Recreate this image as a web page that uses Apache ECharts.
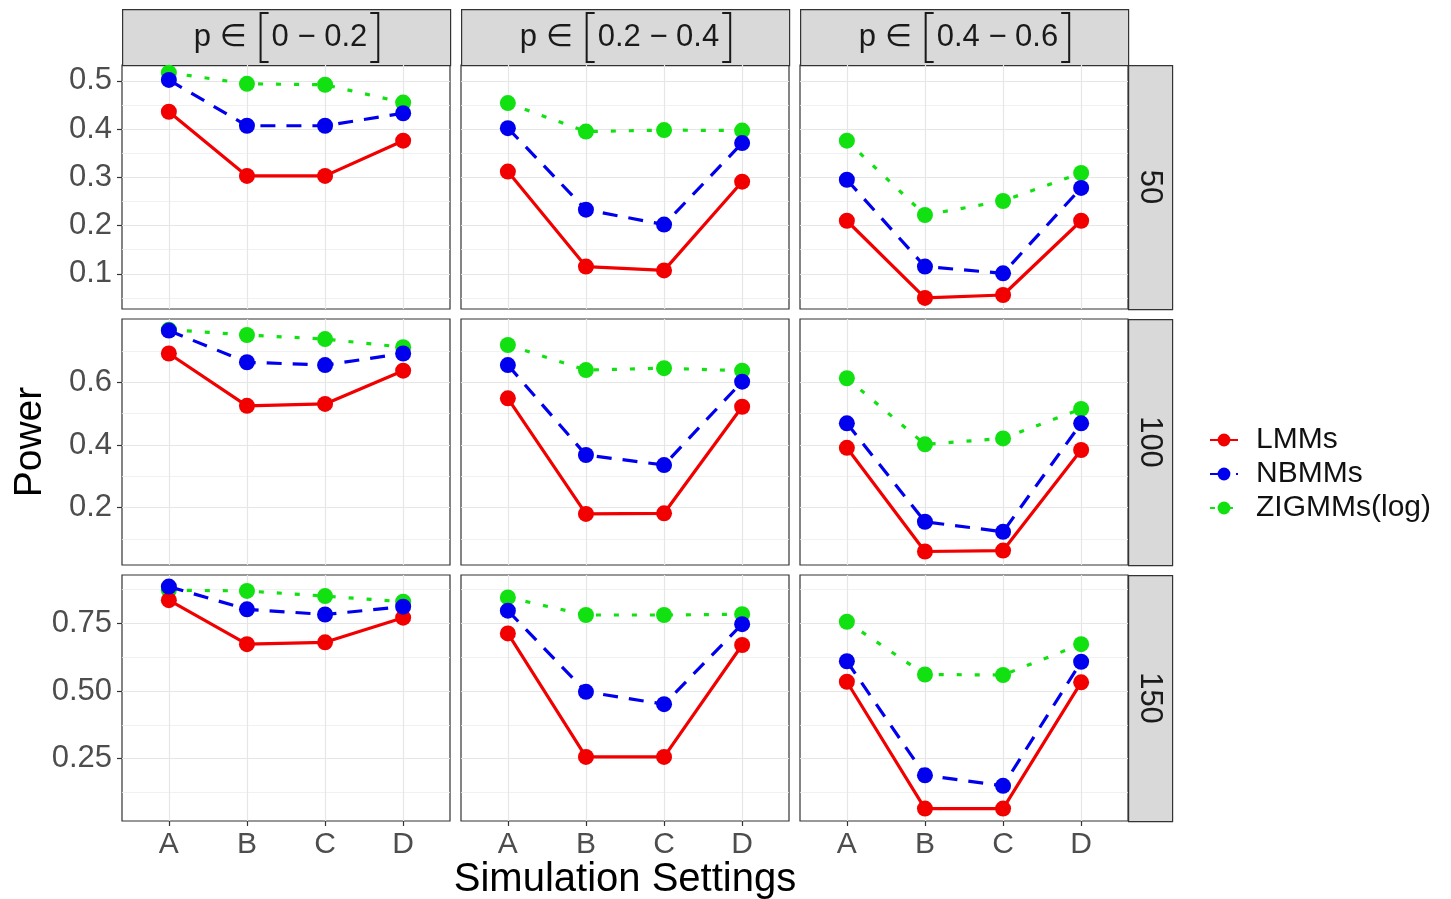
<!DOCTYPE html>
<html>
<head>
<meta charset="utf-8">
<title>Power by simulation setting</title>
<script src="https://cdn.jsdelivr.net/npm/echarts@6/dist/echarts.min.js"></script>
<style>
  html, body { margin: 0; padding: 0; background: #fff; }
  #chart { width: 1451px; height: 899px; }
</style>
</head>
<body>
<div id="chart"></div>
<script>
// categories / facets
const settings = ['A', 'B', 'C', 'D'];
const pRanges = ['0 − 0.2', '0.2 − 0.4', '0.4 − 0.6'];
const sampleSizes = ['50', '100', '150'];
const methods = ['LMMs', 'NBMMs', 'ZIGMMs(log)'];

// power per sample size: one row per p range, values for A..D
const lmm50 = [[0.436, 0.303, 0.303, 0.376], [0.312, 0.115, 0.107, 0.291], [0.21, 0.05, 0.056, 0.21]];
const nbmm50 = [[0.502, 0.407, 0.407, 0.433], [0.402, 0.233, 0.202, 0.371], [0.295, 0.115, 0.101, 0.278]];
const zig50 = [[0.517, 0.494, 0.492, 0.455], [0.454, 0.395, 0.398, 0.397], [0.376, 0.222, 0.251, 0.309]];

const lmm100 = [[0.692, 0.525, 0.531, 0.637], [0.549, 0.18, 0.182, 0.522], [0.391, 0.06, 0.063, 0.384]];
const nbmm100 = [[0.765, 0.664, 0.655, 0.692], [0.655, 0.368, 0.336, 0.602], [0.469, 0.155, 0.123, 0.469]];
const zig100 = [[0.768, 0.751, 0.738, 0.712], [0.719, 0.639, 0.645, 0.637], [0.613, 0.402, 0.421, 0.515]];

const lmm150 = [[0.836, 0.673, 0.68, 0.771], [0.713, 0.256, 0.256, 0.67], [0.534, 0.065, 0.065, 0.532]];
const nbmm150 = [[0.886, 0.802, 0.783, 0.812], [0.797, 0.497, 0.451, 0.747], [0.61, 0.188, 0.149, 0.608]];
const zig150 = [[0.873, 0.87, 0.851, 0.83], [0.846, 0.781, 0.781, 0.784], [0.756, 0.561, 0.559, 0.673]];

// y ticks per sample-size row
const yMajor50 = [0.1, 0.2, 0.3, 0.4, 0.5];
const yMinor50 = [0.05, 0.15, 0.25, 0.35, 0.45];
const yMajor100 = [0.2, 0.4, 0.6];
const yMinor100 = [0.1, 0.3, 0.5, 0.7];
const yMajor150 = [0.25, 0.5, 0.75];
const yMinor150 = [0.125, 0.375, 0.625, 0.875];

const FONT = "'Liberation Sans', Arial, 'DejaVu Sans', sans-serif";

// layout of the facet grid (px)
const colLeft = [122, 461, 800];
const panelW = 328;
const rowTop = [65, 319, 575];
const panelH = [244, 246, 246];
const yLimits = [[0.027, 0.533], [0.017, 0.802], [0.019, 0.929]];
const yDecimals = [1, 1, 2];

const rowsData = [
  [lmm50, nbmm50, zig50],
  [lmm100, nbmm100, zig100],
  [lmm150, nbmm150, zig150]
];
const majorTicks = [yMajor50, yMajor100, yMajor150];
const minorTicks = [yMinor50, yMinor100, yMinor150];

const methodStyle = {
  'LMMs': { color: '#f20000', type: 'solid', z: 3 },
  'NBMMs': { color: '#0000ee', type: [15, 11], z: 4 },
  'ZIGMMs(log)': { color: '#11e011', type: [5, 13], z: 2 }
};

// text width helper for the strip labels
const measureCtx = document.createElement('canvas').getContext('2d');
function textWidth(txt, size) {
  measureCtx.font = size + 'px ' + FONT;
  return measureCtx.measureText(txt).width;
}

let chart = echarts.init(document.getElementById('chart'));

let grids = [], xAxes = [], yAxes = [], series = [], graphics = [];

for (let r = 0; r < 3; r++) {
  for (let c = 0; c < 3; c++) {
    let k = r * 3 + c;
    grids.push({
      left: colLeft[c], top: rowTop[r], width: panelW, height: panelH[r],
      show: true, borderColor: '#333', borderWidth: 1.2, backgroundColor: '#fff'
    });
    xAxes.push({
      type: 'value', gridIndex: k, min: -0.6, max: 3.6,
      axisLine: { show: false, onZero: false },
      axisTick: { show: r === 2, length: 5, lineStyle: { color: '#333', width: 1.2 }, customValues: [0, 1, 2, 3] },
      axisLabel: {
        show: r === 2, customValues: [0, 1, 2, 3], margin: 9,
        fontSize: 30, color: '#4d4d4d', fontFamily: FONT,
        formatter: v => settings[Math.round(v)]
      },
      splitLine: { show: true, lineStyle: { color: '#e6e6e6', width: 1.2 } }
    });

    // major y axis: labels, ticks, major grid
    let ya = {
      type: 'value', gridIndex: k, min: yLimits[r][0], max: yLimits[r][1], position: 'left',
      axisLine: { show: false, onZero: false },
      axisTick: { show: c === 0, length: 5, lineStyle: { color: '#333', width: 1.2 }, customValues: majorTicks[r] },
      axisLabel: {
        show: c === 0, customValues: majorTicks[r], margin: 10,
        fontSize: 31, color: '#4d4d4d', fontFamily: FONT,
        formatter: v => v.toFixed(yDecimals[r])
      },
      splitLine: { show: true, lineStyle: { color: '#e6e6e6', width: 1.2 } }
    };
    if (k === 3) {
      ya.name = 'Power';
      ya.nameLocation = 'middle';
      ya.nameRotate = 90;
      ya.nameGap = 72;
      ya.nameTextStyle = { fontSize: 39, color: '#000', fontFamily: FONT };
    }
    yAxes.push(ya);
    // minor y axis: only the thin grid lines
    yAxes.push({
      type: 'value', gridIndex: k, min: yLimits[r][0], max: yLimits[r][1], position: 'left',
      axisLine: { show: false, onZero: false },
      axisTick: { show: false, customValues: minorTicks[r] },
      axisLabel: { show: false },
      splitLine: { show: true, lineStyle: { color: '#ededed', width: 0.8 } }
    });

    methods.forEach((m, mi) => {
      let vals = rowsData[r][mi][c];
      let st = methodStyle[m];
      series.push({
        name: m, type: 'line', xAxisIndex: k, yAxisIndex: 2 * k,
        data: vals.map((v, i) => [i, v]),
        symbol: 'circle', symbolSize: 16, z: st.z,
        itemStyle: { color: st.color },
        lineStyle: { color: st.color, width: 3.2, type: st.type, cap: 'butt' },
        animation: false
      });
    });
  }
}

// facet strips on top:  p ∈ [a − b]
for (let c = 0; c < 3; c++) {
  graphics.push({
    type: 'rect', left: colLeft[c], top: 9,
    shape: { width: panelW, height: 56 },
    style: { fill: '#d9d9d9', stroke: '#333', lineWidth: 1.2 }
  });
  let pre = 'p ∈';
  let w1 = textWidth(pre, 31), w2 = textWidth(pRanges[c], 31);
  let total = w1 + 14 + 11 + w2 + 11;
  let x0 = colLeft[c] + panelW / 2 - total / 2;
  let lx = x0 + w1 + 14;
  let rx = lx + 11 + w2 + 11;
  graphics.push({
    type: 'text', x: x0, y: 37,
    style: { text: pre, fontSize: 31, fill: '#1a1a1a', fontFamily: FONT, align: 'left', verticalAlign: 'middle' }
  });
  graphics.push({
    type: 'text', x: lx + 11, y: 37,
    style: { text: pRanges[c], fontSize: 31, fill: '#1a1a1a', fontFamily: FONT, align: 'left', verticalAlign: 'middle' }
  });
  graphics.push({
    type: 'polyline',
    shape: { points: [[lx + 8, 13], [lx, 13], [lx, 62], [lx + 8, 62]] },
    style: { stroke: '#1a1a1a', lineWidth: 2, fill: null }
  });
  graphics.push({
    type: 'polyline',
    shape: { points: [[rx - 8, 13], [rx, 13], [rx, 62], [rx - 8, 62]] },
    style: { stroke: '#1a1a1a', lineWidth: 2, fill: null }
  });
}
// facet strips on the right
for (let r = 0; r < 3; r++) {
  graphics.push({
    type: 'rect', left: colLeft[2] + panelW, top: rowTop[r],
    shape: { width: 44, height: panelH[r] },
    style: { fill: '#d9d9d9', stroke: '#333', lineWidth: 1.2 }
  });
  graphics.push({
    type: 'text', x: colLeft[2] + panelW + 22, y: rowTop[r] + panelH[r] / 2,
    rotation: -Math.PI / 2,
    style: {
      text: sampleSizes[r], fontSize: 31, fill: '#1a1a1a', fontFamily: FONT,
      align: 'center', verticalAlign: 'middle'
    }
  });
}
// x axis title, centred under the three columns
graphics.push({
  type: 'text', x: (colLeft[0] + colLeft[2] + panelW) / 2, y: 880,
  style: {
    text: 'Simulation Settings', fontSize: 40, fill: '#000', fontFamily: FONT,
    align: 'center', verticalAlign: 'middle'
  }
});

let option = {
  backgroundColor: '#fff',
  animation: false,
  grid: grids,
  xAxis: xAxes,
  yAxis: yAxes,
  series: series,
  graphic: graphics,
  legend: {
    data: methods, orient: 'vertical', left: 1204, top: 420,
    itemWidth: 28, itemHeight: 16, itemGap: 4,
    textStyle: { fontSize: 30, color: '#111', fontFamily: FONT, padding: [0, 0, 0, 13] }
  }
};
chart.setOption(option);
</script>
</body>
</html>
